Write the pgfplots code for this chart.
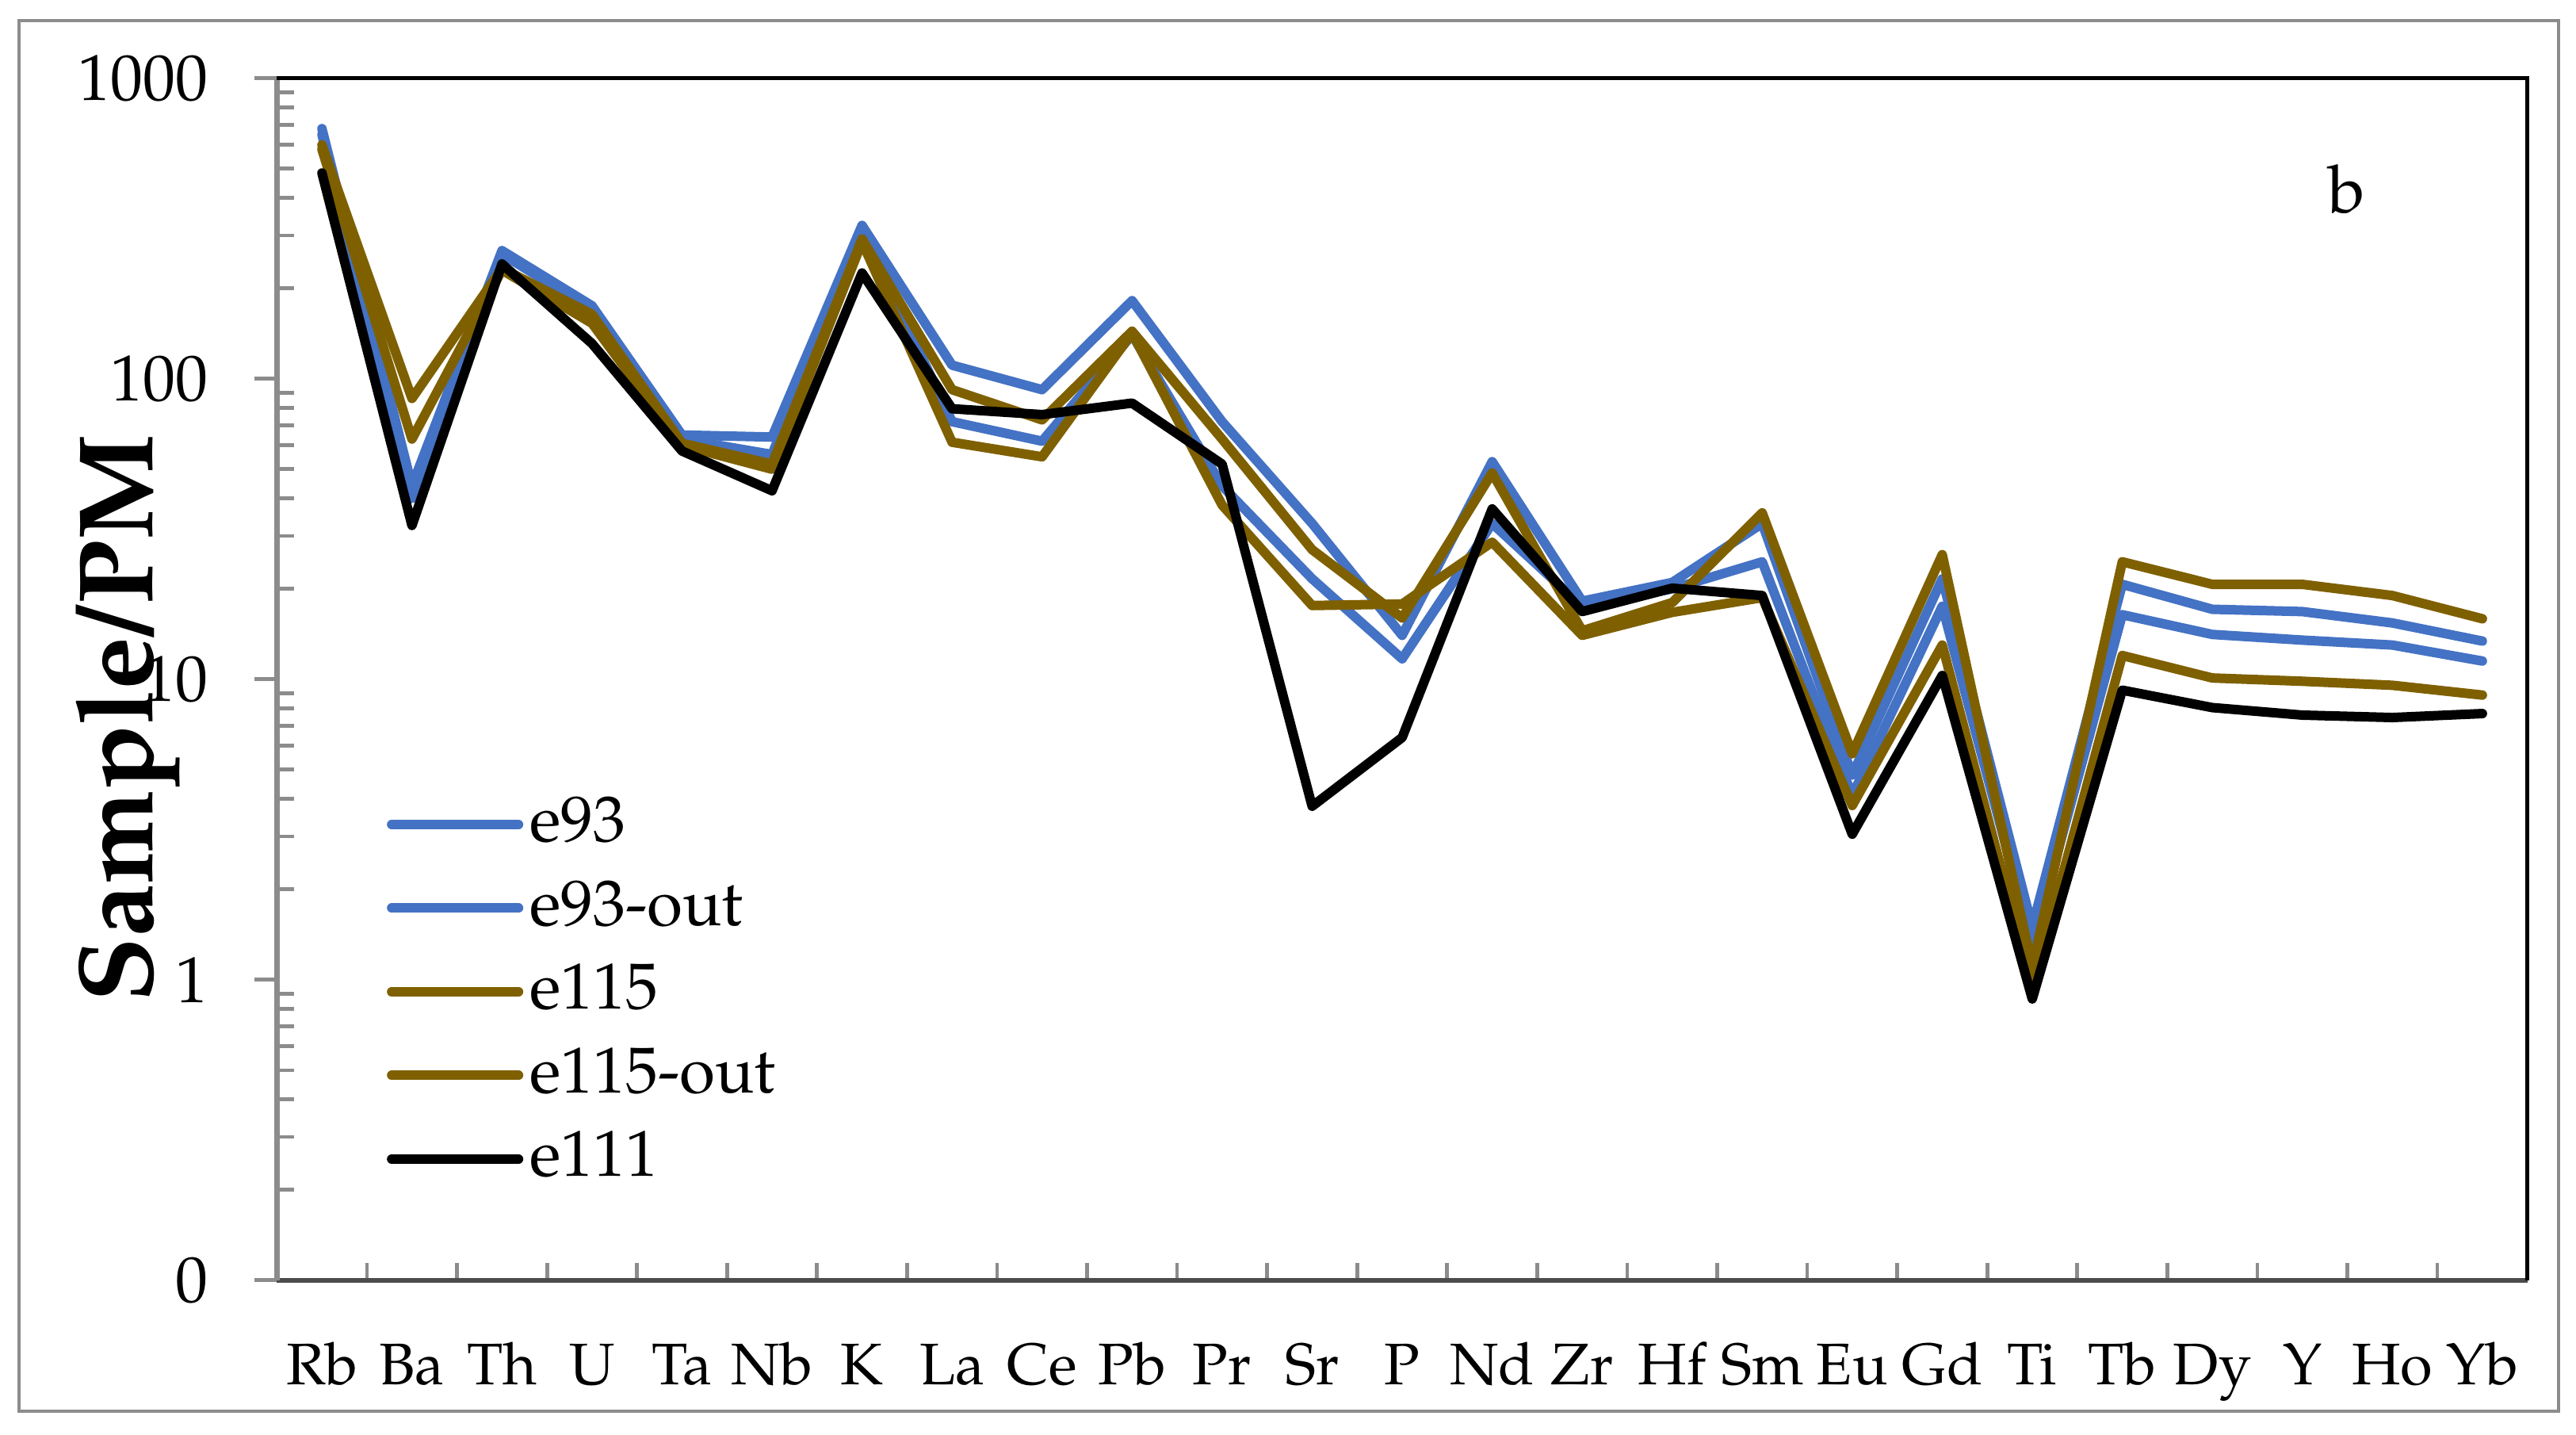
\documentclass[border=0pt]{standalone}
\usepackage[T1]{fontenc}
\usepackage{mathpazo}
\usepackage{pgfplots}
\usepackage{pgfplotstable}
\pgfplotsset{compat=1.18}
\definecolor{eblue}{HTML}{4472C4}
\definecolor{ebrown}{HTML}{7F6000}
\definecolor{axgray}{HTML}{8C8C8C}

\pgfplotstableread{
x e93 e93out e115 e115out e111
0 680 650 600 580 484
1 44 40 86 63 32.5
2 267 260 233 230 241
3 175 170 164 153 131
4 65 63 61 60 57.5
5 64 56 52 50 42.4
6 324 315 292 285 225
7 111 72 92 61.5 79.5
8 92 62 73 55 76
9 182 140 144 142 83
10 72 44 63 38 52
11 33 21.6 27 17.6 3.78
12 14 11.7 16 17.8 6.4
13 53 33 48.6 28.6 36.9
14 18.2 17.5 14.5 14 16.8
15 21 20 18 16.7 20.1
16 33 24.6 35.8 18.7 19
17 4.8 4.1 5.65 3.8 3.05
18 21.6 17.5 26 13 10.3
19 1.5 1.3 1.1 0.95 0.863
20 20.7 16.4 24.6 12 9.2
21 17.1 14.1 20.7 10.1 8.05
22 16.8 13.5 20.7 9.85 7.6
23 15.4 13 19 9.55 7.46
24 13.4 11.5 15.9 8.86 7.69
}\data

\begin{document}
\begin{tikzpicture}
\useasboundingbox (-87.35pt,-48.6pt) rectangle (725.15pt,403.7pt);
\begin{axis}[
  scale only axis, width=709.8pt, height=379pt,
  clip mode=individual,
  ymode=log, ymin=0.1, ymax=1000, xmin=-0.5, xmax=24.5,
  axis lines*=left,
  axis line style={axgray, line width=1.6pt},
  x axis line style={black!70, line width=1.4pt},
  tick align=inside,
  tick style={axgray, line width=1.2pt},
  major tick length=7pt, minor tick length=5.5pt,
  major y tick style={xshift=-7pt},
  major x tick style={draw=none},
  xtick={0,...,24},
  xticklabels={Rb,Ba,Th,U,Ta,Nb,K,La,Ce,Pb,Pr,Sr,P,Nd,Zr,Hf,Sm,Eu,Gd,Ti,Tb,Dy,Y,Ho,Yb},
  minor xtick={0.5,1.5,2.5,3.5,4.5,5.5,6.5,7.5,8.5,9.5,10.5,11.5,12.5,13.5,14.5,15.5,16.5,17.5,18.5,19.5,20.5,21.5,22.5,23.5,24.5},
  ytick={0.1,1,10,100,1000},
  yticklabels={0,1,10,100,1000},
  minor ytick={0.2,0.3,0.4,0.5,0.6,0.7,0.8,0.9,2,3,4,5,6,7,8,9,20,30,40,50,60,70,80,90,200,300,400,500,600,700,800,900},
  x tick label style={font=\fontsize{18.5}{18.5}\selectfont, anchor=base, inner sep=0pt, yshift=-32.8pt},
  y tick label style={font=\fontsize{20.5}{20.5}\selectfont, anchor=east, inner sep=0pt, xshift=-21.6pt},
  legend style={at={(axis description cs:0.0486,0.4048)}, anchor=north west, draw=none, fill=none,
    inner sep=0pt, row sep=7.375pt, column sep=2pt,
    font=\fontsize{20.5}{20.5}\selectfont,
    nodes={inner sep=0pt, text height=15pt, text depth=4pt}},
  legend cell align=left,
  legend image code/.code={\draw[#1, line cap=round] (0pt,0pt) -- (40pt,0pt);},
  every axis plot/.append style={line width=3pt, line join=round, line cap=round},
]
\addplot[eblue] table[x=x, y=e93] {\data};
\addlegendentry{e93}
\addplot[eblue] table[x=x, y=e93out] {\data};
\addlegendentry{e93-out}
\addplot[ebrown] table[x=x, y=e115] {\data};
\addlegendentry{e115}
\addplot[ebrown] table[x=x, y=e115out] {\data};
\addlegendentry{e115-out}
\addplot[black] table[x=x, y=e111] {\data};
\addlegendentry{e111}
\draw[black, line width=1.3pt] (rel axis cs:0,1) -- (rel axis cs:1,1) -- (rel axis cs:1,0);
\node[font=\fontsize{21}{21}\selectfont] at (axis description cs:0.9197,0.9078) {b};
\node[rotate=90, anchor=base, inner sep=0pt, font=\bfseries\fontsize{33.5}{33.5}\selectfont] at (axis description cs:-0.0551,0.4675) {Sample/PM};
\end{axis}
\draw[axgray, line width=0.8pt] (-81.35pt,-41.3pt) rectangle (719.65pt,397.2pt);
\end{tikzpicture}
\end{document}
